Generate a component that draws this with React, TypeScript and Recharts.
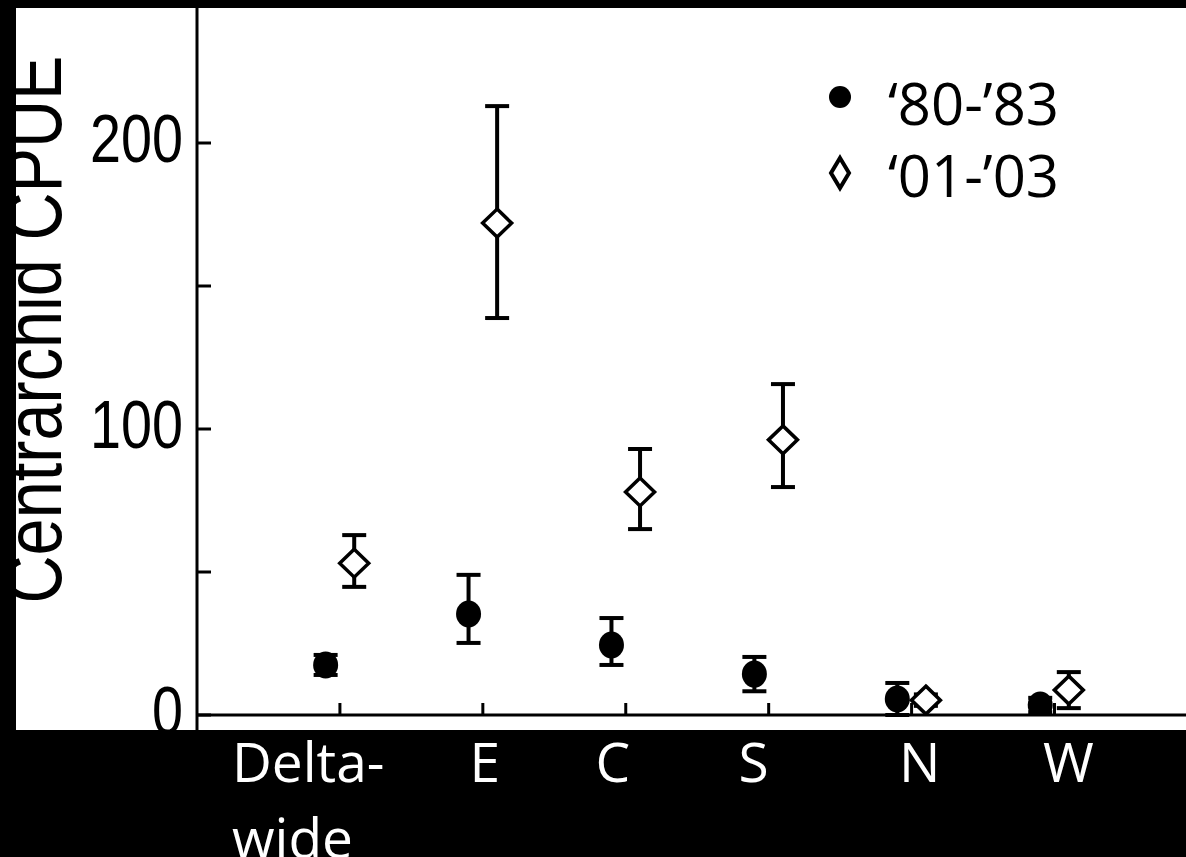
import React from "react";
import {
  ScatterChart,
  Scatter,
  XAxis,
  YAxis,
  ErrorBar,
  ReferenceLine,
  Legend,
} from "recharts";

// regions along the x axis
const CATEGORIES = ["Delta-wide", "E", "C", "S", "N", "W"];

// '80-'83 survey: mean CPUE and error bar lengths (below, above)
const CPUE_80_83 = [17.5, 35.3, 24.5, 14.3, 5.6, 3.5];
const ERR_80_83_LOW = [3.5, 10.1, 7.0, 6.0, 5.6, 2.5];
const ERR_80_83_HIGH = [3.5, 13.7, 9.4, 6.0, 5.6, 2.5];

// '01-'03 survey
const CPUE_01_03 = [53.1, 172.0, 78.0, 96.2, 5.2, 8.7];
const ERR_01_03_LOW = [8.3, 33.2, 13.0, 16.5, 2.0, 6.3];
const ERR_01_03_HIGH = [9.8, 40.9, 15.0, 19.5, 2.0, 6.3];

const Y_TICKS = [0, 50, 100, 150, 200, 250];
const Y_LABELED = [0, 100, 200];
const X_TICKS = CATEGORIES.map((_, i) => i + 1);

const SERIES_NAMES = ["\u201880-\u201983", "\u201801-\u201903"];

// small nudge so the two series sit either side of the category tick
const DODGE = 0.1;

const early = CATEGORIES.map((c, i) => ({
  x: i + 1 - DODGE,
  y: CPUE_80_83[i],
  err: [ERR_80_83_LOW[i], ERR_80_83_HIGH[i]],
  cat: c,
}));

const late = CATEGORIES.map((c, i) => ({
  x: i + 1 + DODGE,
  y: CPUE_01_03[i],
  err: [ERR_01_03_LOW[i], ERR_01_03_HIGH[i]],
  cat: c,
}));

const LABEL_FONT = "'Open Sans', 'Noto Sans', sans-serif";
const AXIS_FONT = "'Liberation Sans', Arial, sans-serif";

// label placement tweaks (the category labels sit a little off their ticks)
const LABEL_SHIFT = [-108, 2, -13, -15, 8, 14];

const Dot = (props: any) => {
  const { cx, cy } = props;
  if (cx == null || cy == null) return <g />;
  return <ellipse cx={cx} cy={cy} rx={12.5} ry={13.5} fill="#000" />;
};

const Diamond = (props: any) => {
  const { cx, cy } = props;
  if (cx == null || cy == null) return <g />;
  const w = 14.5;
  const h = 14;
  return (
    <path
      d={`M${cx},${cy - h}L${cx + w},${cy}L${cx},${cy + h}L${cx - w},${cy}Z`}
      fill="#fff"
      stroke="#000"
      strokeWidth={3.5}
    />
  );
};

const XTick = (props: any) => {
  const { x, y, payload } = props;
  const idx = Math.round(payload.value) - 1;
  const name = CATEGORIES[idx];
  if (!name) return <g />;
  const base = y + 79;
  if (name === "Delta-wide") {
    return (
      <text
        x={x + LABEL_SHIFT[idx]}
        y={base}
        textAnchor="start"
        fill="#fff"
        fontFamily={LABEL_FONT}
        fontSize={55}
      >
        <tspan x={x + LABEL_SHIFT[idx]} y={base}>
          Delta-
        </tspan>
        <tspan x={x + LABEL_SHIFT[idx]} y={base + 76}>
          wide
        </tspan>
      </text>
    );
  }
  return (
    <text
      x={x + LABEL_SHIFT[idx]}
      y={base}
      textAnchor="middle"
      fill="#fff"
      fontFamily={LABEL_FONT}
      fontSize={55}
    >
      {name}
    </text>
  );
};

// the original uses a condensed face; squeeze Liberation Sans to match
const YTick = (props: any) => {
  const { x, y, payload } = props;
  if (!Y_LABELED.includes(payload.value)) return <g />;
  const s = String(payload.value);
  return (
    <text
      x={x}
      y={y + 19}
      textAnchor="end"
      fill="#000"
      fontFamily={AXIS_FONT}
      fontSize={68}
      textLength={31 * s.length}
      lengthAdjust="spacingAndGlyphs"
    >
      {s}
    </text>
  );
};

const YLabel = (props: any) => {
  const vb = props.viewBox || { x: 0, y: 0, width: 197, height: 715 };
  const lx = vb.x + 61;
  const ly = vb.y + vb.height / 2 - 28;
  return (
    <text
      x={lx}
      y={ly}
      transform={`rotate(-90 ${lx} ${ly})`}
      textAnchor="middle"
      fill="#000"
      fontFamily={AXIS_FONT}
      fontSize={80}
      textLength={548}
      lengthAdjust="spacingAndGlyphs"
    >
      Centrarchid CPUE
    </text>
  );
};

const renderLegend = () => (
  <svg width={260} height={160} style={{ overflow: "visible" }}>
    <circle cx={20} cy={37} r={11} fill="#000" />
    <text x={68} y={65} fontFamily={LABEL_FONT} fontSize={58} fill="#000">
      {SERIES_NAMES[0]}
    </text>
    <path
      d="M20,98L29,113L20,128L11,113Z"
      fill="#fff"
      stroke="#000"
      strokeWidth={4}
    />
    <text x={68} y={137} fontFamily={LABEL_FONT} fontSize={58} fill="#000">
      {SERIES_NAMES[1]}
    </text>
  </svg>
);

export default function App() {
  return (
    <div
      style={{
        position: "absolute",
        left: 0,
        top: 0,
        width: 1186,
        height: 857,
        background: "#000",
        overflow: "hidden",
      }}
    >
      <div
        style={{
          position: "absolute",
          left: 16,
          top: 8,
          width: 1170,
          height: 722,
          background: "#fff",
        }}
      />
      <div style={{ position: "absolute", left: 0, top: 0 }}>
        <ScatterChart
          width={1186}
          height={857}
          margin={{ top: 0, right: 0, bottom: 0, left: 0 }}
        >
          <XAxis
            type="number"
            dataKey="x"
            domain={[0, 6.92]}
            ticks={X_TICKS}
            interval={0}
            allowDataOverflow
            height={142}
            tickSize={-12}
            tickMargin={0}
            axisLine={{ stroke: "#000", strokeWidth: 3 }}
            tickLine={{ stroke: "#000", strokeWidth: 3 }}
            tick={<XTick />}
          />
          <YAxis
            type="number"
            dataKey="y"
            domain={[0, 250]}
            ticks={Y_TICKS}
            interval={0}
            allowDataOverflow
            width={197}
            tickSize={-14}
            tickMargin={28}
            axisLine={{ stroke: "#000", strokeWidth: 3 }}
            tickLine={{ stroke: "#000", strokeWidth: 3 }}
            tick={<YTick />}
            label={{ content: <YLabel /> }}
          />
          <ReferenceLine
            segment={[
              { x: 0, y: 0 },
              { x: 0, y: -5.3 },
            ]}
            ifOverflow="visible"
            stroke="#000"
            strokeWidth={3}
          />
          <Legend
            content={renderLegend}
            wrapperStyle={{
              position: "absolute",
              left: 820,
              top: 60,
              width: 260,
              height: 0,
              overflow: "visible",
            }}
          />
          <Scatter
            name={SERIES_NAMES[0]}
            data={early}
            shape={<Dot />}
            isAnimationActive={false}
          >
            <ErrorBar
              dataKey="err"
              direction="y"
              width={12}
              stroke="#000"
              strokeWidth={4}
              isAnimationActive={false}
            />
          </Scatter>
          <Scatter
            name={SERIES_NAMES[1]}
            data={late}
            shape={<Diamond />}
            isAnimationActive={false}
          >
            <ErrorBar
              dataKey="err"
              direction="y"
              width={12}
              stroke="#000"
              strokeWidth={4}
              isAnimationActive={false}
            />
          </Scatter>
        </ScatterChart>
      </div>
    </div>
  );
}
